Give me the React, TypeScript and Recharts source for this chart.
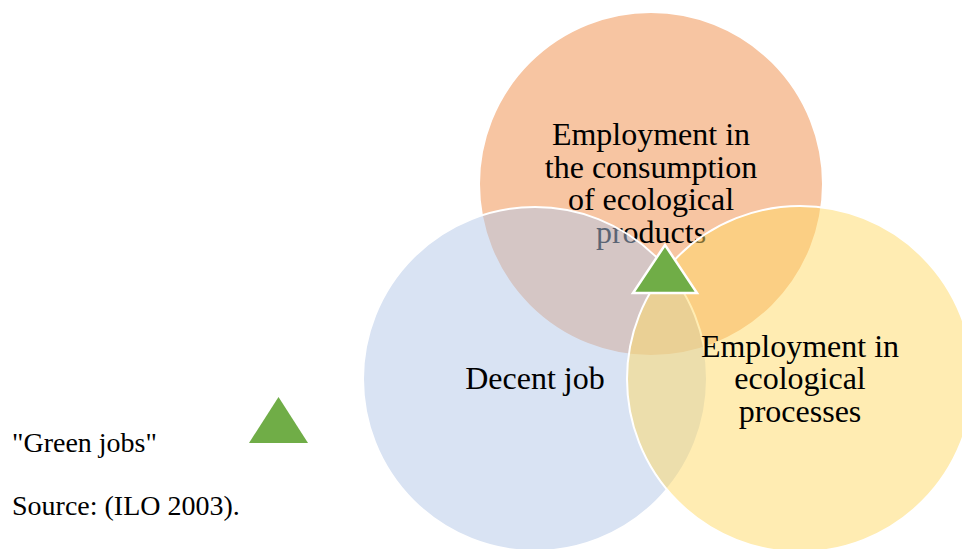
import React from "react";
import { ScatterChart, Scatter, XAxis, YAxis, Legend } from "recharts";

const WIDTH = 962;
const HEIGHT = 549;
const FONT = "'Liberation Serif', 'DejaVu Serif', serif";

// the three circles of the venn diagram, in drawing order
const setNames = [
  "Employment in the consumption of ecological products",
  "Decent job",
  "Employment in ecological processes",
];
const setLabelLines = [
  ["Employment in", "the consumption", "of ecological", "products"],
  ["Decent job"],
  ["Employment in", "ecological", "processes"],
];
const setX = [651, 535, 800];
const setY = [184, 379, 379];
const setRadius = [172, 172, 173];
const setColors = ["#F4B183", "#B4C7E7", "#FFD966"];
const setOpacity = [0.75, 0.5, 0.5];

// the marker for the intersection
const greenJobsX = [665];
const greenJobsY = [269];
const GREEN = "#70AD47";

const legendText = '"Green jobs"';
const sourceText = "Source: (ILO 2003).";

const sets = setNames.map((name, i) => ({
  name,
  x: setX[i],
  y: setY[i],
  r: setRadius[i],
  lines: setLabelLines[i],
  color: setColors[i],
  opacity: setOpacity[i],
}));

const greenJobs = greenJobsX.map((x, i) => ({ name: "Green jobs", x, y: greenJobsY[i] }));

// one data unit is one pixel (domain == plot size)
const PX_PER_UNIT = 1;

const renderSet = (props: any) => {
  const { cx, cy, payload } = props;
  const r = payload.r * PX_PER_UNIT;
  const lineH = 32.5;
  const n = payload.lines.length;
  return (
    <g>
      <circle
        cx={cx}
        cy={cy}
        r={r}
        fill={payload.color}
        fillOpacity={payload.opacity}
        stroke="#ffffff"
        strokeWidth={2}
      />
      <text textAnchor="middle" fontFamily={FONT} fontSize={32} fill="#000">
        {payload.lines.map((line: string, i: number) => (
          <tspan key={i} x={cx} y={cy + (i - (n - 1) / 2) * lineH + 10}>
            {line}
          </tspan>
        ))}
      </text>
    </g>
  );
};

const renderTriangle = (props: any) => {
  const { cx, cy } = props;
  const hw = 32;
  const hh = 24;
  return (
    <polygon
      points={`${cx},${cy - hh} ${cx + hw},${cy + hh} ${cx - hw},${cy + hh}`}
      fill={GREEN}
      stroke="#ffffff"
      strokeWidth={2.5}
      strokeLinejoin="miter"
    />
  );
};

const renderLegend = () => (
  <svg width={330} height={169} style={{ display: "block" }}>
    <text x={12} y={72} fontFamily={FONT} fontSize={28} fill="#000">
      {legendText}
    </text>
    <polygon points="278.5,17 308,63 249,63" fill={GREEN} />
    <text x={12} y={135} fontFamily={FONT} fontSize={28} fill="#000">
      {sourceText}
    </text>
  </svg>
);

export default function App() {
  return (
    <div style={{ position: "absolute", left: 0, top: 0, width: WIDTH, height: HEIGHT, background: "#fff" }}>
      <ScatterChart width={WIDTH} height={HEIGHT} margin={{ top: 0, right: 0, bottom: 0, left: 0 }}>
        <XAxis type="number" dataKey="x" domain={[0, WIDTH]} hide />
        <YAxis type="number" dataKey="y" domain={[0, HEIGHT]} reversed hide />
        <Scatter data={sets} shape={renderSet} isAnimationActive={false} />
        <Scatter data={greenJobs} shape={renderTriangle} isAnimationActive={false} />
        <Legend
          layout="horizontal"
          align="center"
          verticalAlign="middle"
          content={renderLegend}
          wrapperStyle={{ left: 0, top: 380, width: 330, height: 169 }}
        />
      </ScatterChart>
    </div>
  );
}
